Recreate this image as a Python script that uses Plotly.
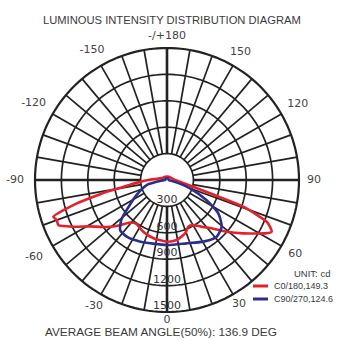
import plotly.graph_objects as go

# Luminous intensity (cd) versus gamma angle (deg), 0 = straight down
c0_theta = [-180, -150, -120, -97, -90, -86, -81, -79, -75, -72, -70, -67.5, -63.5, -59,
            -52, -46, -41, -35, -25, -13, 0, 9, 19, 24.5, 30, 36, 42, 49, 55, 62, 63.7,
            65.6, 67.3, 70.7, 72.8, 75, 82.5, 90, 109, 150, 180]
c0_cd = [40, 44, 50, 115, 210, 307, 506, 698, 1102, 1358, 1333, 1337, 1190, 1023,
         867, 739, 639, 607, 646, 680, 701, 691, 639, 583, 592, 655, 735, 897, 1058, 1285, 1327,
         1285, 1228, 918, 511, 330, 149, 90, 60, 44, 40]

c90_theta = [-180, -120, -90, -85, -80, -76, -64, -55, -49, -43, -35, -24, 0, 17, 30.5,
             41, 49.5, 57, 63, 70, 74, 80, 90, 120, 180]
c90_cd = [20, 20, 20, 50, 120, 238, 384, 534, 687, 780, 790, 765, 739, 753, 813,
          857, 817, 695, 505, 278, 150, 50, 20, 20, 20]

ring_values = [300, 600, 900, 1200, 1500]
ring_labels = ["300", "600", "900", "1200", "1500"]
angle_ticks = [0, 30, 60, 90, 120, 150, 180, -150, -120, -90, -60, -30]
angle_labels = ["0", "30", "60", "90", "120", "150", "-/+180", "-150", "-120", "-90", "-60", "-30"]

series_names = ["C0/180,149.3", "C90/270,124.6"]
series_colors = ["#e3212b", "#2d2e8c"]

R_GRID = 1500          # outermost ring
R_AXIS = 1800          # radial range, leaves room for the angle labels
GRID = "#222222"
SANS = "Liberation Sans, Arial, sans-serif"

# distance of each angle label from the centre, in radial-axis units
label_gap = {0: 1595, 30: 1636, 60: 1682, 90: 1670, 120: 1716, 150: 1670, 180: 1636,
             -150: 1705, -120: 1750, -90: 1727, -60: 1745, -30: 1660}

fig = go.Figure()

# concentric rings
for v in ring_values:
    th = list(range(0, 361, 2))
    fig.add_trace(go.Scatterpolar(r=[v] * len(th), theta=th, mode="lines",
                                  line=dict(color=GRID, width=2.2 if v == R_GRID else 1.7),
                                  hoverinfo="skip", showlegend=False))

# spokes every 10 degrees, starting at the first ring
minor_r, minor_t, major_r, major_t = [], [], [], []
for a in range(0, 360, 10):
    if a % 90 == 0:
        major_r += [ring_values[0], R_GRID, None]
        major_t += [a, a, None]
    else:
        minor_r += [ring_values[0], R_GRID, None]
        minor_t += [a, a, None]
fig.add_trace(go.Scatterpolar(r=minor_r, theta=minor_t, mode="lines",
                              line=dict(color=GRID, width=1.7), hoverinfo="skip", showlegend=False))
fig.add_trace(go.Scatterpolar(r=major_r, theta=major_t, mode="lines",
                              line=dict(color=GRID, width=2.6), hoverinfo="skip", showlegend=False))

# intensity curves
for th, cd, name, col in [(c0_theta, c0_cd, series_names[0], series_colors[0]),
                          (c90_theta, c90_cd, series_names[1], series_colors[1])]:
    fig.add_trace(go.Scatterpolar(r=cd, theta=th, mode="lines", name=name,
                                  line=dict(color=col, width=2.6, shape="spline", smoothing=0.6),
                                  showlegend=False))

# ring value labels along the 0 degree spoke, just inside each ring
fig.add_trace(go.Scatterpolar(r=[v - 65 for v in ring_values], theta=[0] * len(ring_values),
                              mode="text", text=ring_labels,
                              textfont=dict(family="DejaVu Sans", size=11, color="#333333"),
                              hoverinfo="skip", showlegend=False))

# angle labels outside the outer ring
fig.add_trace(go.Scatterpolar(r=[label_gap[t] for t in angle_ticks], theta=angle_ticks,
                              mode="text", text=angle_labels,
                              textfont=dict(family="DejaVu Sans", size=11, color="#444444"),
                              hoverinfo="skip", showlegend=False))

W, H = 339, 340
cx, cy = 167, 180
rad = 132 * R_AXIS / R_GRID
fig.update_layout(
    width=W, height=H,
    margin=dict(l=0, r=0, t=0, b=0),
    paper_bgcolor="white",
    polar=dict(
        domain=dict(x=[(cx - rad) / W, (cx + rad) / W],
                    y=[(H - cy - rad) / H, (H - cy + rad) / H]),
        bgcolor="rgba(0,0,0,0)",
        radialaxis=dict(range=[0, R_AXIS], visible=False),
        angularaxis=dict(rotation=-90, direction="counterclockwise",
                         showgrid=False, showline=False, showticklabels=False, ticks=""),
    ),
    showlegend=False,
)

annotations = [
    dict(text="LUMINOUS INTENSITY DISTRIBUTION DIAGRAM", x=172 / W, y=1 - 20 / H,
         font=dict(family=SANS, size=11.2, color="#3a3a3a")),
    dict(text="AVERAGE BEAM ANGLE(50%): 136.9 DEG", x=161 / W, y=1 - 332 / H,
         font=dict(family=SANS, size=11.8, color="#3a3a3a")),
    dict(text="UNIT: cd", x=292 / W, y=1 - 273 / H, xanchor="left",
         font=dict(family=SANS, size=9.5, color="#3a3a3a")),
    dict(text=series_names[0], x=272 / W, y=1 - 286 / H, xanchor="left",
         font=dict(family=SANS, size=9, color="#3a3a3a")),
    dict(text=series_names[1], x=272 / W, y=1 - 299 / H, xanchor="left",
         font=dict(family=SANS, size=9, color="#3a3a3a")),
]
for a in annotations:
    a.setdefault("xanchor", "center")
    a.update(xref="paper", yref="paper", yanchor="middle", showarrow=False)
fig.update_layout(annotations=annotations)

# legend swatches
for i, col in enumerate(series_colors):
    yy = 1 - (286 + 13 * i) / H
    fig.add_shape(type="line", xref="paper", yref="paper", x0=253 / W, x1=268 / W,
                  y0=yy, y1=yy, line=dict(color=col, width=3))

fig.write_html("out.html")
